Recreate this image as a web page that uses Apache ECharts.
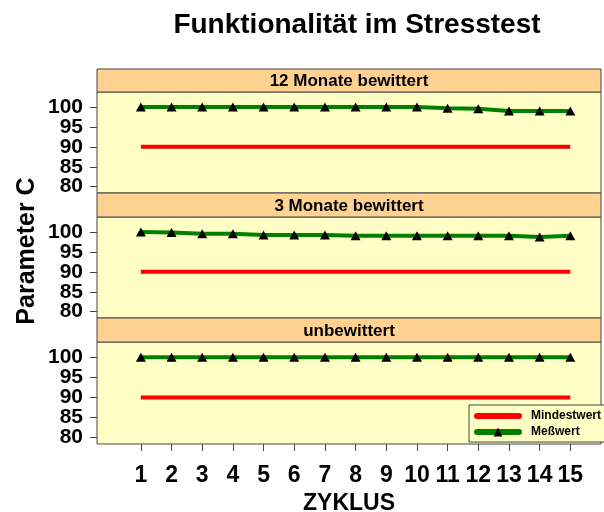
<!DOCTYPE html>
<html>
<head>
<meta charset="utf-8">
<script src="https://cdn.jsdelivr.net/npm/echarts@6/dist/echarts.min.js"></script>
<style>
  html, body { margin: 0; padding: 0; background: #fff; }
  #chart { width: 604px; height: 512px; }
</style>
</head>
<body>
<div id="chart"></div>
<script>
// Daten
const cycles = [1, 2, 3, 4, 5, 6, 7, 8, 9, 10, 11, 12, 13, 14, 15];
const panelNames = ['12 Monate bewittert', '3 Monate bewittert', 'unbewittert'];
const minValue = [90, 90, 90, 90, 90, 90, 90, 90, 90, 90, 90, 90, 90, 90, 90];
const measured12 = [100, 100, 100, 100, 100, 100, 100, 100, 100, 100, 99.7, 99.6, 99.0, 99.0, 99.0];
const measured3 = [100, 99.9, 99.6, 99.6, 99.3, 99.3, 99.3, 99.1, 99.1, 99.1, 99.1, 99.1, 99.1, 98.8, 99.1];
const measured0 = [100, 100, 100, 100, 100, 100, 100, 100, 100, 100, 100, 100, 100, 100, 100];
const yTicks = [80, 85, 90, 95, 100];
const seriesNames = ['Mindestwert', 'Meßwert'];

const measured = [measured12, measured3, measured0];

// the labels overlap a little, so put every other tick on a second (overlaid) axis
// to keep echarts from thinning them out
const yTicksA = yTicks.filter(function (v, k) { return k % 2 === 0; });
const yTicksB = yTicks.filter(function (v, k) { return k % 2 === 1; });

const FONT = 'Arial, "Liberation Sans", sans-serif';
const STRIP = '#FFD292';
const PANEL = '#FFFFC6';
const BORDER = '#444';

// layout of the three panels (strip on top, plot below)
const stripTop = [69, 193, 318];
const plotTop = [92, 217, 342];
const plotH = [101, 101, 102];
const left = 97, width = 504;

let myChart = echarts.init(document.getElementById('chart'));

let grids = [], xAxes = [], yAxes = [], series = [], graphics = [];

function yAxisDef(i, ticks) {
  return {
    type: 'value', gridIndex: i, min: 78.4, max: 103.8, position: 'left', offset: 0,
    splitLine: { show: false },
    axisLine: { show: false, onZero: false },
    axisTick: { show: true, inside: false, length: 7, customValues: ticks,
                lineStyle: { color: BORDER } },
    axisLabel: { customValues: ticks, margin: 14,
                 showMinLabel: true, showMaxLabel: true, hideOverlap: false,
                 fontFamily: FONT, fontWeight: 'bold', fontSize: 21, color: '#000' }
  };
}

panelNames.forEach(function (name, i) {
  const last = i === panelNames.length - 1;
  grids.push({
    left: left, top: plotTop[i], width: width, height: plotH[i],
    show: true, backgroundColor: PANEL, borderColor: BORDER, borderWidth: 1,
    outerBoundsMode: 'none'
  });
  xAxes.push({
    type: 'value', gridIndex: i, min: -0.43, max: 16.0,
    splitLine: { show: false },
    axisLine: { show: false, onZero: false },
    axisTick: { show: last, inside: false, length: 7, customValues: cycles,
                lineStyle: { color: BORDER } },
    axisLabel: { show: last, customValues: cycles, margin: 20,
                 showMinLabel: true, showMaxLabel: true, hideOverlap: false,
                 fontFamily: FONT, fontWeight: 'bold', fontSize: 23, color: '#000' },
    name: last ? 'ZYKLUS' : '',
    nameLocation: 'middle', nameGap: 48,
    nameTextStyle: { fontFamily: FONT, fontWeight: 'bold', fontSize: 23, color: '#000' }
  });
  yAxes.push(yAxisDef(i, yTicksA));
  yAxes.push(yAxisDef(i, yTicksB));
  series.push({
    name: seriesNames[0], type: 'line', xAxisIndex: i, yAxisIndex: 2 * i,
    data: cycles.map(function (c, k) { return [c, minValue[k]]; }),
    symbol: 'none', lineStyle: { color: '#FF0000', width: 4 },
    itemStyle: { color: '#FF0000' }, z: 2
  });
  series.push({
    name: seriesNames[1], type: 'line', xAxisIndex: i, yAxisIndex: 2 * i,
    data: cycles.map(function (c, k) { return [c, measured[i][k]]; }),
    symbol: 'triangle', symbolSize: [10, 9],
    lineStyle: { color: '#008000', width: 4 },
    itemStyle: { color: '#000' }, z: 3
  });
  // strip header
  graphics.push({
    type: 'rect', shape: { x: left, y: stripTop[i], width: width, height: plotTop[i] - stripTop[i] },
    style: { fill: STRIP, stroke: BORDER, lineWidth: 1 }, z: 1
  });
  graphics.push({
    type: 'text', x: left + width / 2, y: (stripTop[i] + plotTop[i]) / 2 + 1,
    style: { text: name, align: 'center', verticalAlign: 'middle',
             font: 'bold 17px ' + FONT, fill: '#000' }, z: 2
  });
});

graphics.push({
  type: 'text', x: 357, y: 25,
  style: { text: 'Funktionalität im Stresstest', align: 'center', verticalAlign: 'middle',
           font: 'bold 28px ' + FONT, fill: '#000' }
});
graphics.push({
  type: 'text', x: 27, y: 251, rotation: Math.PI / 2,
  style: { text: 'Parameter C', align: 'center', verticalAlign: 'middle',
           font: 'bold 25px ' + FONT, fill: '#000' }
});

let option = {
  animation: false,
  grid: grids,
  xAxis: xAxes,
  yAxis: yAxes,
  series: series,
  graphic: graphics,
  legend: {
    data: [
      { name: seriesNames[0], itemStyle: { opacity: 0 } },
      { name: seriesNames[1] }
    ],
    orient: 'vertical',
    left: 469, top: 405,
    itemWidth: 42, itemHeight: 11, itemGap: 2,
    padding: [4, 40, 3, 5],
    backgroundColor: PANEL, borderColor: BORDER, borderWidth: 1, borderRadius: 0,
    lineStyle: { width: 6, cap: 'round' },
    textStyle: { fontFamily: FONT, fontWeight: 'bold', fontSize: 12, color: '#000',
                 lineHeight: 14, padding: [0, 0, 0, 7] },
    selectedMode: false
  }
};

myChart.setOption(option);
</script>
</body>
</html>
